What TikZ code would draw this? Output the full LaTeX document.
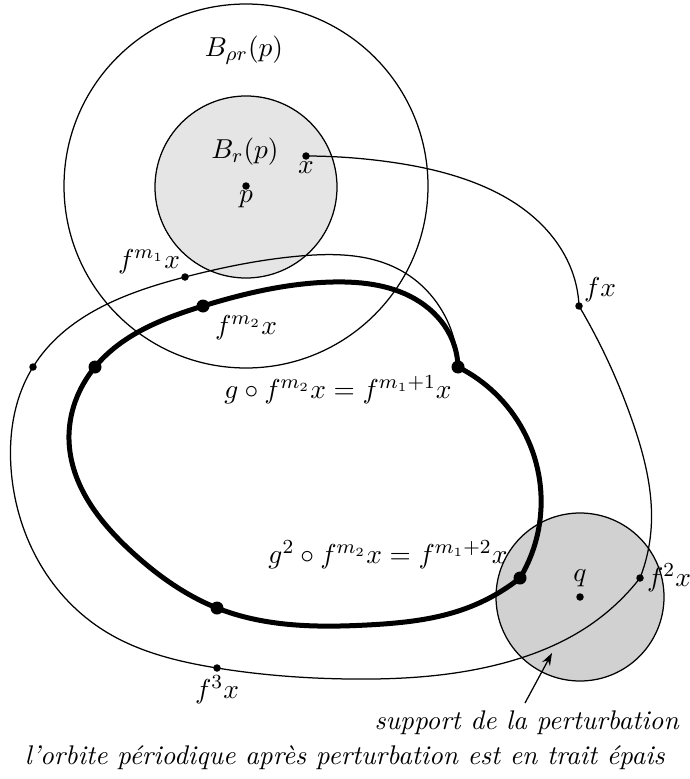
\documentclass[tikz,border=0pt]{standalone}
\usetikzlibrary{arrows.meta,hobby}
\begin{document}
\begin{tikzpicture}[x=0.4pt,y=-0.4pt,
  every node/.style={font=\fontsize{10.8}{13}\selectfont},
  thin orbit/.style={line width=0.5pt, use Hobby shortcut},
  thick orbit/.style={line width=2pt, line join=round, use Hobby shortcut},
  smalldot/.style={circle, fill=black, inner sep=0pt, minimum size=3pt},
  bigdot/.style={circle, fill=black, inner sep=0pt, minimum size=5.2pt},
  lbl/.style={inner sep=1pt}]
\useasboundingbox (0,0) rectangle (690,779);
% discs
\draw[line width=0.5pt] (246,186) circle[radius=182];
\draw[line width=0.5pt, fill=gray!20] (246,187) circle[radius=91];
\draw[line width=0.5pt, fill=gray!36] (580,597) circle[radius=84];
% points
\coordinate (P) at (246,186);
\coordinate (X) at (306,156);
\coordinate (FX) at (579,306);
\coordinate (F2X) at (640,578);
\coordinate (F3X) at (217,668);
\coordinate (L) at (33,367);
\coordinate (FM1) at (185,277);
\coordinate (G1) at (458,367);
\coordinate (G2) at (520,578);
\coordinate (B) at (217,608);
\coordinate (L2) at (95,367);
\coordinate (FM2) at (203,306);
\coordinate (Q) at (580,597);
% thin orbit
\draw[thin orbit] (X) .. (390,162) .. (470,181) .. (540,223) .. (573,274) .. (FX);
\draw[thin orbit] (FX) .. (633,423) .. (651,530) .. (F2X);
\draw[thin orbit] (F2X) .. (590,625) .. (500,664) .. (350,679) .. (F3X) .. (100,628) .. (11,468) .. (L) .. (FM1) .. (300,256) .. (400,270) .. (446,318) .. (G1);
% thick periodic orbit
\draw[thick orbit] (G1) .. (523,430) .. (540,520) .. (G2);
\draw[thick orbit] (G2) .. (467,608) .. (367,625) .. (B) .. (133,553) .. (69,440) .. (L2) .. (FM2) .. (333,282) .. (420,302) .. (450,335) .. (G1);
% dots
\node[smalldot] (dp) at (P) {};
\node[smalldot] (dx) at (X) {};
\node[smalldot] (dfx) at (FX) {};
\node[smalldot] (df2x) at (F2X) {};
\node[smalldot] (df3x) at (F3X) {};
\node[smalldot] (dl) at (L) {};
\node[smalldot] (dfm1) at (FM1) {};
\node[smalldot] (dq) at (Q) {};
\node[bigdot] (dg1) at (G1) {};
\node[bigdot] (dg2) at (G2) {};
\node[bigdot] (db) at (B) {};
\node[bigdot] (dl2) at (L2) {};
\node[bigdot] (dfm2) at (FM2) {};
% labels
\node[lbl] (tBrho) at (244,50) {$B_{\rho r}(p)$};
\node[lbl] (tBr) at (245,152) {$B_r(p)$};
\node[lbl] (tp) at (246,199) {$p$};
\node[lbl] (tx) at (306,168) {$x$};
\node[lbl] (tfm1) at (149,262) {$f^{m_1}x$};
\node[lbl] (tfm2) at (246,328) {$f^{m_2}x$};
\node[lbl] (tfx) at (600,290) {$fx$};
\node[lbl] (tg1) at (338,390) {$g\circ f^{m_2}x=f^{m_1+1}x$};
\node[lbl] (tg2) at (388,555) {$g^2\circ f^{m_2}x=f^{m_1+2}x$};
\node[lbl] (tq) at (580,578) {$q$};
\node[lbl] (tf2x) at (669,578) {$f^2x$};
\node[lbl] (tf3x) at (217,690) {$f^3x$};
\node[lbl] (tsup) at (527,723) {\textit{support de la perturbation}};
\node[lbl] (tcap) at (345,758) {\textit{l'orbite périodique après perturbation est en trait épais}};
\coordinate (arrs) at (525,703);
\coordinate (arre) at (552,653);
\draw[line width=0.5pt, -{Stealth[length=5pt,width=3.5pt]}] (arrs) -- (arre);
\end{tikzpicture}
\end{document}
